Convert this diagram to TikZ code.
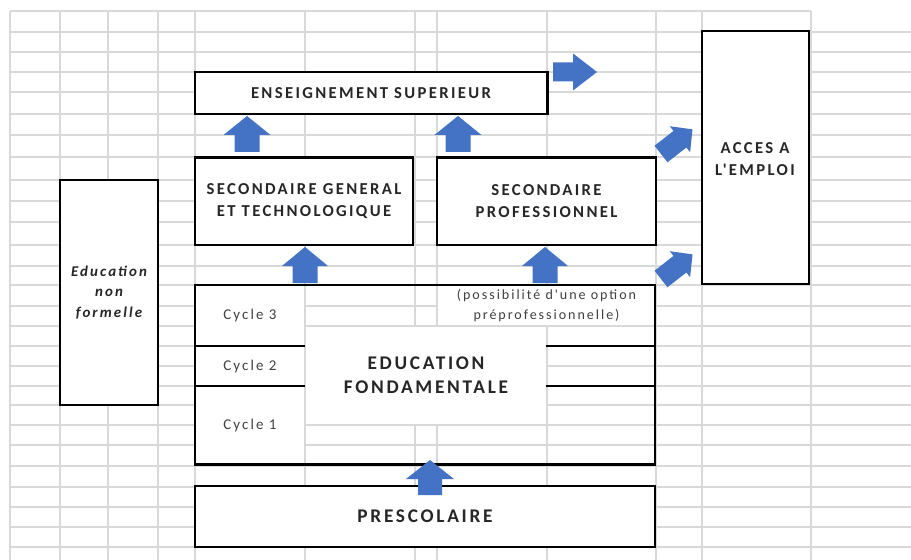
\documentclass[tikz,border=0pt]{standalone}
\usepackage{fontspec}
\setmainfont{Carlito}
\newfontfamily\boxfont[LetterSpace=14]{Carlito}
\usetikzlibrary{fit}
\definecolor{arrowblue}{HTML}{4472C4}
\definecolor{inkgray}{HTML}{262626}
\definecolor{softgray}{HTML}{404040}

\begin{document}
\begin{tikzpicture}[x=0.02cm, y=-0.02cm]
        \tikzset{
            gridline/.style={gray!30, line width=0.9pt},
            box/.style={draw=black, line width=1pt, fill=white, inner sep=0pt},
            cell/.style={fill=white, inner sep=0pt},
            label text/.style={text=inkgray, align=center, inner sep=0pt},
            divider/.style={black, line width=1pt},
            thick edge/.style={black, line width=1.7pt},
            title/.style={label text, font=\boxfont\bfseries\fontsize{9.5}{12.5}\selectfont},
            big title/.style={label text, font=\boxfont\bfseries\fontsize{11}{13.6}\selectfont},
            side title/.style={label text, font=\boxfont\bfseries\itshape\fontsize{8.5}{11.6}\selectfont},
            small/.style={label text, font=\boxfont\fontsize{8.5}{11}\selectfont, text=softgray},
            note/.style={label text, font=\boxfont\fontsize{8}{11.3}\selectfont, text=softgray},
            % block arrow along +x: length/head length/head width/shaft width
            pics/blockarrow/.style args={#1/#2/#3/#4}{
                code={
                    \fill[arrowblue] (0,-#4/2) -- ({#1-#2},-#4/2) -- ({#1-#2},-#3/2) -- (#1,0)
                        -- ({#1-#2},#3/2) -- ({#1-#2},#4/2) -- (0,#4/2) -- cycle;
                }
            }
        }

        \useasboundingbox[fill=white] (0,0) rectangle (911,560);

        % spreadsheet grid
        \foreach \x in {10,60,108,158,195,305,415,437,547,656,702,811} {
            \draw[gridline] (\x,11) -- (\x,560);
        }
        \draw[gridline] (10,11) -- (811,11);
        \foreach \y in {32,52,72,92,114,135,157,180,201,222,245,266,285,306,326,346,366,386,405,425,445,466,487,507,527,547} {
            \draw[gridline] (10,\y) -- (911,\y);
        }

        % side boxes
        \node[box, fit={(60,180) (158,405)}] (nonformal) {};
        \node[side title] (nonformal text) at (nonformal.center) {Education\\non\\formelle};
        \node[box, fit={(702,31) (809,284)}] (emploi) {};
        \node[title] (emploi text) at (755,159) {ACCES A\\L'EMPLOI};

        % upper levels
        \node[box, fit={(195,72) (547,114)}] (sup) {};
        \node[title] (sup text) at (sup.center) {ENSEIGNEMENT SUPERIEUR};
        \node[box, fit={(195,158) (413,245)}] (secgen) {};
        \node[title] (secgen text) at (secgen.center) {SECONDAIRE GENERAL\\ET TECHNOLOGIQUE};
        \node[box, fit={(437,158) (656,245)}] (secpro) {};
        \node[title] (secpro text) at (secpro.center) {SECONDAIRE\\PROFESSIONNEL};

        % education fondamentale block
        \fill[white] (195,285) rectangle (304,464);
        \node[cell, fit={(306,327) (546,424)}] (fond) {};
        \node[big title] (fond text) at (fond.center) {EDUCATION\\FONDAMENTALE};
        \node[cell, fit={(438,286) (655,325)}] (option) {};
        \node[note] (option text) at (option.center) {(possibilité d'une option\\préprofessionnelle)};
        \node[small] (cycle3) at (250,316) {Cycle 3};
        \node[small] (cycle2) at (250,367) {Cycle 2};
        \node[small] (cycle1) at (250,426) {Cycle 1};
        \foreach \y in {346,386} {
            \draw[divider] (195,\y) -- (305,\y);
            \draw[divider] (546,\y) -- (655,\y);
        }
        \node[draw=black, line width=1pt, inner sep=0pt, fit={(195,285) (655,464)}] (fondbox) {};

        \node[box, fit={(195,486) (655,547)}] (presco) {};
        \node[big title] (presco text) at (presco.center) {PRESCOLAIRE};

        % heavier edges
        \draw[thick edge] (sup.north east) -- (sup.south east);
        \draw[thick edge] (secgen.north west) -- (secgen.north east);
        \draw[thick edge] (secpro.north west) -- (secpro.north east);
        \draw[thick edge] (fondbox.south west) -- (fondbox.south east);

        % blue arrows
        \pic[rotate=90] (upsup1) at (247,152) {blockarrow=36/19/47/25};
        \pic[rotate=90] (upsup2) at (458,152) {blockarrow=36/19/47/25};
        \pic[rotate=90] (upgen) at (305,283) {blockarrow=36/19/46/25};
        \pic[rotate=90] (uppro) at (545,283) {blockarrow=36/19/46/25};
        \pic[rotate=90] (upfond) at (430,495) {blockarrow=35/19/48/24};
        \pic (outsup) at (553,72) {blockarrow=44/24/37/19};
        \pic[rotate=38] (outpro) at (661,154) {blockarrow=40/16/33/21};
        \pic[rotate=38] (outfond) at (661,279) {blockarrow=40/16/33/21};
\end{tikzpicture}
\end{document}
